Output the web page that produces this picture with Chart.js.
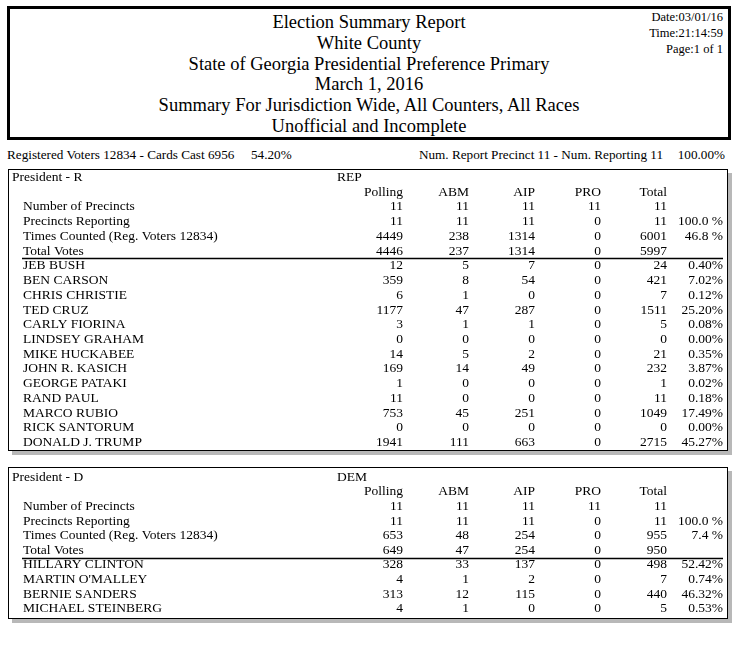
<!DOCTYPE html>
<html lang="en">
<head>
<meta charset="UTF-8">
<title>Election Summary Report</title>
<script src="https://cdn.jsdelivr.net/npm/chart.js"></script>
<style>
  body { margin:0; width:733px; height:659px; background:#fff; position:relative; overflow:hidden;
         font-family:"Liberation Serif","Times New Roman",serif; color:#000; }
  .head { position:absolute; left:7px; top:6px; width:718px; height:128px; border:3px solid #000; }
  .head .title { position:absolute; left:0; right:0; top:3px; text-align:center; font-size:18.5px; line-height:20.8px; }
  .head .stamp { position:absolute; right:5px; top:0; text-align:right; font-size:12.5px; line-height:16px; }
  .sum { position:absolute; top:147px; font-size:13.2px; line-height:16px; white-space:nowrap; }
  .box { position:absolute; left:8px; width:718px; border:1.5px solid #000; box-shadow:4px 4px 0 #b8b8b8; }
  .wrap { position:absolute; left:0; width:733px; }
</style>
</head>
<body>
  <div class="head">
    <div class="title">Election Summary Report<br>White County<br>State of Georgia Presidential Preference Primary<br>March 1, 2016<br>Summary For Jurisdiction Wide, All Counters, All Races<br>Unofficial and Incomplete</div>
    <div class="stamp">Date:03/01/16<br>Time:21:14:59<br>Page:1 of 1</div>
  </div>

  <div class="sum" style="left:7px">Registered Voters 12834 - Cards Cast 6956</div>
  <div class="sum" style="left:251px">54.20%</div>
  <div class="sum" style="right:70px">Num. Report Precinct 11 - Num. Reporting 11</div>
  <div class="sum" style="right:8px">100.00%</div>

  <div class="box" style="top:169px; height:280px"></div>
  <div class="wrap" style="top:169px; height:284px"><canvas id="repChart"></canvas></div>

  <div class="box" style="top:467px; height:150px"></div>
  <div class="wrap" style="top:467px; height:153px"><canvas id="demChart"></canvas></div>

<script>
  // columnas del reporte
  const cols = ['Polling', 'ABM', 'AIP', 'PRO', 'Total'];

  // President - R
  const repRows = ['Number of Precincts', 'Precincts Reporting', 'Times Counted (Reg. Voters 12834)', 'Total Votes',
    'JEB BUSH', 'BEN CARSON', 'CHRIS CHRISTIE', 'TED CRUZ', 'CARLY FIORINA', 'LINDSEY GRAHAM', 'MIKE HUCKABEE',
    'JOHN R. KASICH', 'GEORGE PATAKI', 'RAND PAUL', 'MARCO RUBIO', 'RICK SANTORUM', 'DONALD J. TRUMP'];
  const repPolling = [11, 11, 4449, 4446, 12, 359, 6, 1177, 3, 0, 14, 169, 1, 11, 753, 0, 1941];
  const repAbm     = [11, 11, 238, 237, 5, 8, 1, 47, 1, 0, 5, 14, 0, 0, 45, 0, 111];
  const repAip     = [11, 11, 1314, 1314, 7, 54, 0, 287, 1, 0, 2, 49, 0, 0, 251, 0, 663];
  const repPro     = [11, 0, 0, 0, 0, 0, 0, 0, 0, 0, 0, 0, 0, 0, 0, 0, 0];
  const repTotal   = [11, 11, 6001, 5997, 24, 421, 7, 1511, 5, 0, 21, 232, 1, 11, 1049, 0, 2715];
  const repPct     = ['', '100.0 %', '46.8 %', '', '0.40%', '7.02%', '0.12%', '25.20%', '0.08%', '0.00%', '0.35%',
    '3.87%', '0.02%', '0.18%', '17.49%', '0.00%', '45.27%'];

  // President - D
  const demRows = ['Number of Precincts', 'Precincts Reporting', 'Times Counted (Reg. Voters 12834)', 'Total Votes',
    'HILLARY CLINTON', "MARTIN O'MALLEY", 'BERNIE SANDERS', 'MICHAEL STEINBERG'];
  const demPolling = [11, 11, 653, 649, 328, 4, 313, 4];
  const demAbm     = [11, 11, 48, 47, 33, 1, 12, 1];
  const demAip     = [11, 11, 254, 254, 137, 2, 115, 0];
  const demPro     = [11, 0, 0, 0, 0, 0, 0, 0];
  const demTotal   = [11, 11, 955, 950, 498, 7, 440, 5];
  const demPct     = ['', '100.0 %', '7.4 %', '', '52.42%', '0.74%', '46.32%', '0.53%'];

  const FONT = '13.5px "Liberation Serif", "Times New Roman", serif';

  // dibuja las celdas como texto sobre las escalas del chart
  const tablePlugin = {
    id: 'table',
    afterDatasetsDraw(chart, args, opts) {
      const ctx = chart.ctx;
      const x = chart.scales.x, y = chart.scales.y;
      const band = x.getPixelForValue(1) - x.getPixelForValue(0);
      const rowH = y.getPixelForValue(1) - y.getPixelForValue(0);
      ctx.save();
      ctx.font = FONT;
      ctx.fillStyle = '#000';
      ctx.textBaseline = 'middle';

      ctx.textAlign = 'left';
      ctx.fillText(opts.title, 12, y.getPixelForValue(0));
      ctx.fillText(opts.party, x.left, y.getPixelForValue(0));

      ctx.textAlign = 'right';
      cols.forEach((c, i) => ctx.fillText(c, x.getPixelForValue(i) + band / 2, y.getPixelForValue(1)));

      ctx.textAlign = 'left';
      opts.rows.forEach((r, i) => ctx.fillText(r, 23, y.getPixelForValue(i + 2)));

      ctx.textAlign = 'right';
      chart.data.datasets.forEach((ds, d) => {
        chart.getDatasetMeta(d).data.forEach((pt, i) => {
          ctx.fillText(ds.data[i].v, pt.x + band / 2 + ds.dx, pt.y);
        });
      });

      // linea bajo Total Votes
      const ly = Math.round(y.getPixelForValue(opts.statRows + 1) + rowH / 2) + 0.5;
      ctx.strokeStyle = '#000';
      ctx.lineWidth = 1.3;
      ctx.beginPath();
      ctx.moveTo(22, ly);
      ctx.lineTo(723, ly);
      ctx.stroke();
      ctx.restore();
    }
  };

  function tableChart(id, title, party, rows, series, pct, padTop, padBottom) {
    const datasets = series.map((vals, c) => ({
      label: cols[c],
      data: vals.map((v, i) => ({ x: cols[c], y: rows[i], v: String(v) })),
      dx: 0,
      pointRadius: 0
    }));
    datasets.push({
      label: '%',
      data: pct.map((v, i) => ({ x: 'Total', y: rows[i], v: v })),
      dx: 56,
      pointRadius: 0
    });

    new Chart(document.getElementById(id), {
      type: 'scatter',
      data: { datasets: datasets },
      options: {
        responsive: true,
        maintainAspectRatio: false,
        animation: false,
        events: [],
        layout: { padding: { left: 337, right: 66, top: padTop, bottom: padBottom } },
        plugins: {
          legend: { display: false },
          tooltip: { enabled: false },
          table: { title: title, party: party, rows: rows, statRows: 4 }
        },
        scales: {
          x: { type: 'category', labels: cols, offset: true, display: false },
          y: { type: 'category', labels: [title, ' ', ...rows], offset: true, display: false }
        }
      },
      plugins: [tablePlugin]
    });
  }

  tableChart('repChart', 'President - R', 'REP', repRows,
    [repPolling, repAbm, repAip, repPro, repTotal], repPct, 1, 3);
  tableChart('demChart', 'President - D', 'DEM', demRows,
    [demPolling, demAbm, demAip, demPro, demTotal], demPct, 3, 4);
</script>
</body>
</html>
